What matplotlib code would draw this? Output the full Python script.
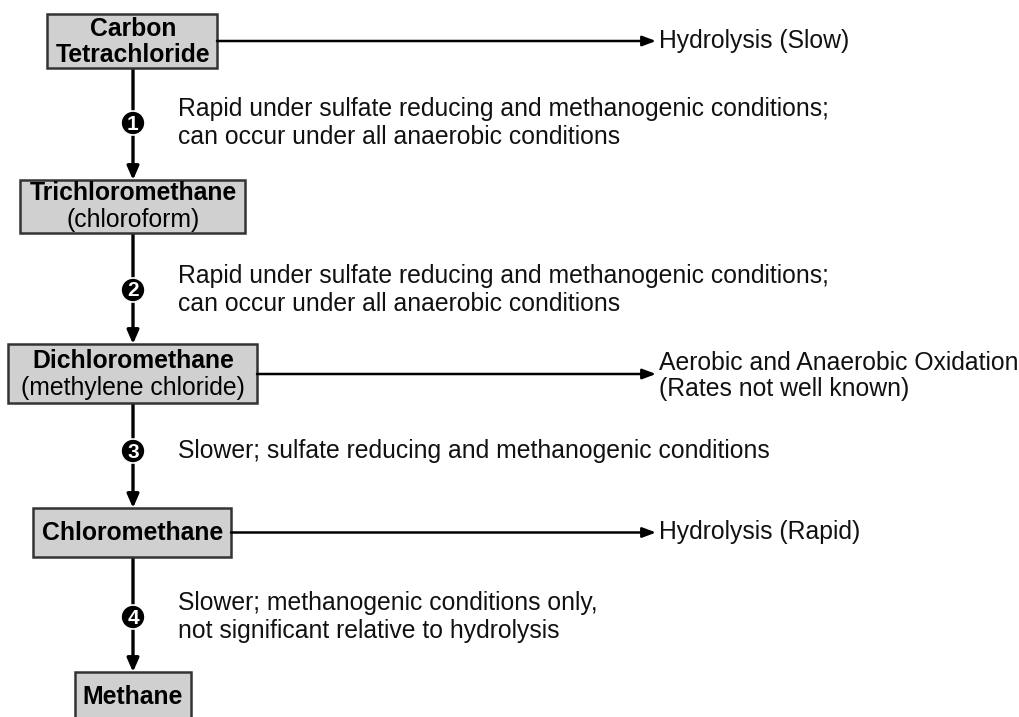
import matplotlib.pyplot as plt
from matplotlib.patches import Rectangle, Circle

plt.rcParams['font.family'] = ['Liberation Sans', 'DejaVu Sans']

# compounds in the degradation chain (bold name, optional second line)
compounds = ["Carbon\nTetrachloride", "Trichloromethane", "Dichloromethane", "Chloromethane", "Methane"]
subtitles = ["", "(chloroform)", "(methylene chloride)", "", ""]
steps = ["1", "2", "3", "4"]
step_notes = [
    "Rapid under sulfate reducing and methanogenic conditions;\ncan occur under all anaerobic conditions",
    "Rapid under sulfate reducing and methanogenic conditions;\ncan occur under all anaerobic conditions",
    "Slower; sulfate reducing and methanogenic conditions",
    "Slower; methanogenic conditions only,\nnot significant relative to hydrolysis",
]
side_paths = {0: "Hydrolysis (Slow)",
              2: "Aerobic and Anaerobic Oxidation\n(Rates not well known)",
              3: "Hydrolysis (Rapid)"}

# layout in pixels (x0, y0, x1, y1)
boxes = [(47, 14, 217, 68), (20, 180, 245, 233), (8, 344, 257, 403),
         (33, 508, 231, 557), (75, 672, 191, 740)]
step_y = [123, 290, 451, 617]
xc = 133

fig = plt.figure(figsize=(10.2, 7.17), dpi=100)
ax = fig.add_axes([0, 0, 1, 1])
ax.set_xlim(0, 1020)
ax.set_ylim(717, 0)
ax.axis('off')

fs = 17.8
for i, (name, sub) in enumerate(zip(compounds, subtitles)):
    x0, y0, x1, y1 = boxes[i]
    ax.add_patch(Rectangle((x0, y0), x1 - x0, y1 - y0, facecolor='#d0d0d0',
                           edgecolor='#333333', lw=1.8, zorder=2))
    h = y1 - y0 if i < 4 else 48
    cy = y0 + h / 2
    if sub:
        ax.text(xc, cy - 13, name, ha='center', va='center', fontsize=fs,
                fontweight='bold', zorder=3)
        ax.text(xc, cy + 14, sub, ha='center', va='center', fontsize=fs, zorder=3)
    else:
        ax.text(xc, cy + 1, name, ha='center', va='center', fontsize=fs,
                fontweight='bold', zorder=3, linespacing=1.12)

# vertical arrows with step markers
for i, s in enumerate(steps):
    ytop = boxes[i][3]
    ybot = boxes[i + 1][1]
    ax.annotate("", xy=(xc, ybot), xytext=(xc, ytop),
                arrowprops=dict(arrowstyle='-|>,head_length=0.8,head_width=0.35',
                                color='black', lw=2.4, shrinkA=0, shrinkB=0), zorder=1)
    ax.add_patch(Circle((xc, step_y[i]), 12, facecolor='black', edgecolor='white',
                        lw=1.2, zorder=4))
    ax.text(xc, step_y[i] + 1, s, ha='center', va='center', color='white',
            fontsize=15, fontweight='bold', zorder=5)
    ax.text(178, step_y[i], step_notes[i], ha='left', va='center', fontsize=fs,
            linespacing=1.17, color='#111111')

# side branches
for i, label in side_paths.items():
    x0, y0, x1, y1 = boxes[i]
    ya = (y0 + y1) / 2 if i != 2 else 374
    ax.annotate("", xy=(656, ya), xytext=(x1, ya),
                arrowprops=dict(arrowstyle='-|>,head_length=0.8,head_width=0.3',
                                color='black', lw=1.8, shrinkA=0, shrinkB=0))
    if "\n" in label:
        ax.text(659, ya + 2, label, ha='left', va='center', fontsize=fs,
                linespacing=1.1, color='#111111')
    else:
        ax.text(659, ya, label, ha='left', va='center', fontsize=fs, color='#111111')

fig.savefig("out.png", dpi=100)
